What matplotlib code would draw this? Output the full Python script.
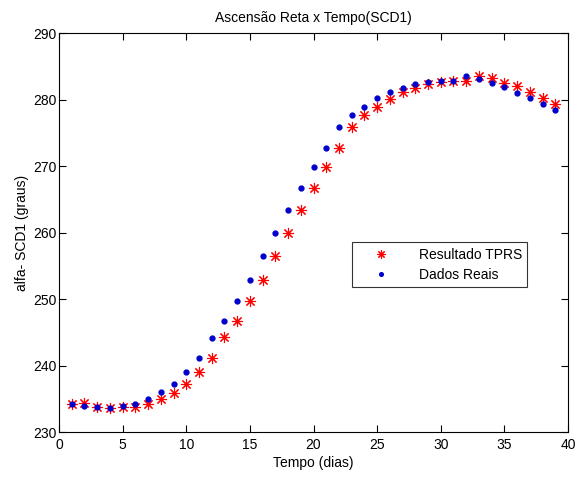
import matplotlib
matplotlib.use('Agg')
import matplotlib.pyplot as plt

# dias
dias = list(range(1, 40))

# Dados Reais (pontos azuis)
dados_reais = [234.2, 233.9, 233.7, 233.6, 233.9, 234.2, 234.9, 236.0, 237.2, 239.0,
               241.1, 244.2, 246.7, 249.7, 252.8, 256.4, 259.9, 263.4, 266.7, 269.8,
               272.7, 275.8, 277.6, 278.9, 280.2, 281.1, 281.8, 282.3, 282.6, 282.85,
               282.85, 283.5, 283.1, 282.5, 281.9, 281.05, 280.3, 279.25, 278.4]

# Resultado TPRS (asteriscos vermelhos)
resultado_tprs = [234.2, 234.3, 233.8, 233.6, 233.7, 233.8, 234.2, 234.9, 235.9, 237.2,
                  239.0, 241.2, 244.3, 246.7, 249.7, 252.8, 256.4, 259.9, 263.4, 266.7,
                  269.8, 272.7, 275.8, 277.6, 278.9, 280.1, 281.1, 281.7, 282.3, 282.6,
                  282.8, 282.75, 283.6, 283.3, 282.5, 282.0, 281.1, 280.3, 279.35]

plt.rcParams['font.family'] = ['Liberation Sans', 'DejaVu Sans']
fs = 10

fig = plt.figure(figsize=(5.77, 4.79), dpi=100)
ax = fig.add_axes([59 / 577, 1 - 432 / 479, 509 / 577, 399 / 479])

tprs, = ax.plot(dias, resultado_tprs, linestyle='none', marker=(8, 2, 0),
                color='red', markersize=8, markeredgewidth=0.8, label='Resultado TPRS')
reais, = ax.plot(dias, dados_reais, linestyle='none', marker='.',
                 color='#0000cc', markersize=7, label='Dados Reais')

ax.set_xlim(0, 40)
ax.set_ylim(230, 290)
ax.set_xticks(range(0, 41, 5))
ax.set_yticks(range(230, 291, 10))
ax.tick_params(direction='in', top=True, right=True, length=5, labelsize=fs, width=0.8)
ax.tick_params(axis='y', pad=2)
ax.tick_params(axis='x', pad=4)
for s in ax.spines.values():
    s.set_linewidth(0.8)

ax.set_title('Ascensão Reta x Tempo(SCD1)', fontsize=fs, pad=8)
ax.set_xlabel('Tempo (dias)', fontsize=fs, labelpad=3)
ax.set_ylabel('alfa- SCD1 (graus)', fontsize=fs, labelpad=3)

leg = ax.legend(handles=[tprs, reais], loc='upper left',
                bbox_to_anchor=(0.5756, 0.476), borderaxespad=0, fontsize=fs,
                frameon=True, fancybox=False, edgecolor='black', borderpad=0.4,
                handlelength=3.4, handletextpad=1.0, labelspacing=0.45, numpoints=1,
                markerscale=0.75)
leg.get_frame().set_linewidth(0.8)

plt.savefig('out.png', dpi=100)
